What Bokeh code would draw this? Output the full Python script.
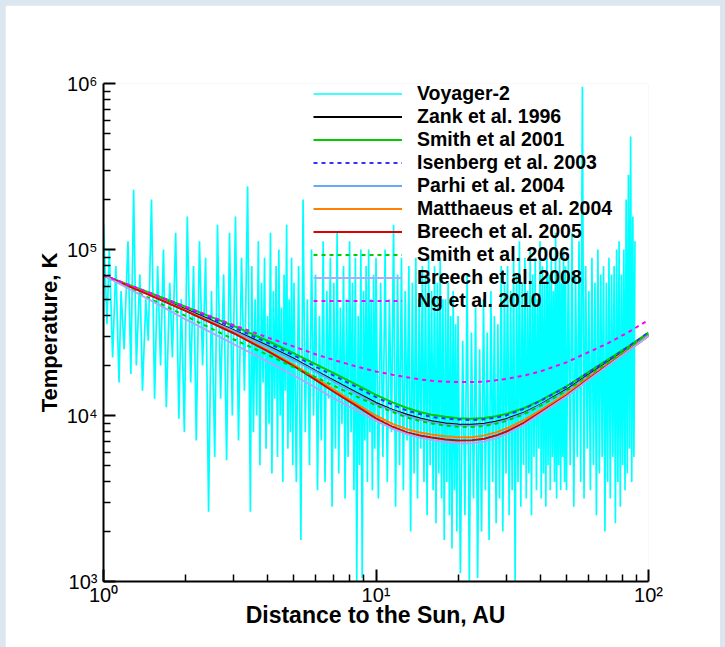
import numpy as np
from bokeh.plotting import figure
from bokeh.models import Range1d, FixedTicker, GlobalInlineStyleSheet
from bokeh.embed import file_html
from bokeh.resources import INLINE

# ---------------- model curves (distance in AU, temperature in K) ----------------
model_r = [1, 1.5, 2, 3, 4, 5, 6, 7, 8.5, 10, 11.5, 13, 14.5, 16, 18, 20, 22.5, 25, 27.5, 30, 35, 40, 50, 60, 70, 85, 100]
zank_1996 = [70000, 53100, 43700, 32700, 26300, 21900, 18600, 16200, 13700, 11900, 10800, 10100, 9590, 9250,
             8950, 8830, 8790, 8910, 9160, 9510, 10400, 11600, 14300, 17500, 20700, 25600, 30900]
smith_2001 = [70000, 54300, 45200, 34700, 28200, 23700, 20400, 18000, 15300, 13300, 12000, 11100, 10500, 10100,
              9820, 9640, 9570, 9660, 9890, 10200, 11100, 12300, 15000, 18200, 21400, 26300, 31600]
isenberg_2003 = [70000, 53700, 44500, 33900, 27400, 23000, 19700, 17400, 14800, 12900, 11600, 10700, 10200, 9790,
                 9590, 9460, 9400, 9480, 9700, 10000, 11000, 12200, 14900, 18100, 21200, 26200, 31600]
parhi_2004 = [70000, 52800, 43100, 32300, 25900, 21600, 18400, 16000, 13500, 11700, 10700, 9930, 9460, 9120,
              8830, 8710, 8670, 8790, 9040, 9380, 10300, 11500, 14100, 17300, 20400, 25200, 30600]
matthaeus_2004 = [70000, 52700, 43000, 31600, 24800, 20200, 16800, 14300, 11700, 10000, 8910, 8260, 7890, 7690,
                  7500, 7400, 7400, 7590, 7910, 8320, 9400, 10700, 13500, 16800, 20100, 25100, 30500]
breech_2005 = [70000, 52500, 42700, 31300, 24400, 19800, 16400, 13900, 11400, 9620, 8550, 7910, 7570, 7360,
               7180, 7080, 7100, 7240, 7570, 7980, 9060, 10400, 13200, 16500, 19800, 24800, 30200]
smith_2006 = [70000, 50100, 39800, 28800, 23200, 19500, 17000, 15100, 13000, 11500, 10500, 9700, 9270, 8950,
              8690, 8550, 8530, 8650, 8910, 9250, 10200, 11400, 14100, 17300, 20500, 25500, 30900]
breech_2008 = [70000, 49000, 38000, 26900, 21100, 17400, 14700, 12700, 10700, 9270, 8320, 7710, 7350, 7110,
               6900, 6790, 6810, 6970, 7280, 7690, 8810, 10200, 13000, 16300, 19600, 24700, 30200]
ng_2010 = [70000, 54300, 45200, 35100, 29500, 26000, 23400, 21600, 19700, 18400, 17600, 17000, 16500, 16200,
           16000, 15900, 15900, 16000, 16300, 16600, 17400, 18400, 20900, 24000, 26900, 32000, 37600]

# ---------------- Voyager-2 observations ----------------
voyager_r = [
    1.00, 1.03, 1.05, 1.08, 1.11, 1.14, 1.16, 1.19, 1.23, 1.26, 1.29, 1.32, 1.36, 1.39, 1.43, 1.46, 1.50,
    1.54, 1.58, 1.62, 1.66, 1.70, 1.75, 1.79, 1.84, 1.89, 1.93, 1.98, 2.03, 2.09, 2.14, 2.19, 2.25, 2.31,
    2.37, 2.43, 2.49, 2.56, 2.62, 2.69, 2.76, 2.83, 2.90, 2.97, 3.05, 3.13, 3.21, 3.29, 3.38, 3.46,
    3.50, 3.55, 3.60, 3.65, 3.70, 3.75, 3.80, 3.85, 3.90, 3.95, 4.00, 4.05, 4.10, 4.15, 4.20, 4.25, 4.30,
    4.35, 4.40, 4.45, 4.50, 4.55, 4.60, 4.65, 4.70, 4.75, 4.80, 4.85, 4.90, 4.95,
    5.0, 5.1, 5.2, 5.3, 5.4, 5.5, 5.6, 5.7, 5.8, 5.9, 6.0, 6.1, 6.2, 6.3, 6.4, 6.5, 6.6, 6.7, 6.8, 6.9,
    7.0, 7.1, 7.2, 7.3, 7.4, 7.5, 7.6, 7.7, 7.8, 7.9, 8.0, 8.1, 8.2, 8.3, 8.4, 8.5, 8.6, 8.7, 8.8, 8.9,
    9.0, 9.1, 9.2, 9.3, 9.4, 9.5, 9.6, 9.7, 9.8, 9.9,
    10.0, 10.2, 10.4, 10.6, 10.8, 11.0, 11.2, 11.4, 11.6, 11.8, 12.0, 12.2, 12.4, 12.6, 12.8, 13.0, 13.2,
    13.4, 13.6, 13.8, 14.0, 14.2, 14.4, 14.6, 14.8, 15.0, 15.2, 15.4, 15.6, 15.8, 16.0, 16.2, 16.4, 16.6,
    16.8, 17.0, 17.2, 17.4, 17.6, 17.8, 18.0, 18.2, 18.4, 18.6, 18.8, 19.0, 19.2, 19.4, 19.6, 19.8,
    20.0, 20.4, 20.8, 21.2, 21.6, 22.0, 22.4, 22.8, 23.2, 23.6, 24.0, 24.4, 24.8, 25.2, 25.6, 26.0, 26.4,
    26.8, 27.2, 27.6, 28.0, 28.4, 28.8, 29.2, 29.6, 30.0, 30.4, 30.8, 31.2, 31.6, 32.0, 32.4, 32.8, 33.2,
    33.6, 34.0, 34.4, 34.8, 35.2, 35.6, 36.0, 36.4, 36.8, 37.2, 37.6, 38.0, 38.4, 38.8, 39.2, 39.6, 40.0,
    40.4, 40.8, 41.2, 41.6, 42.0, 42.4, 42.8, 43.2, 43.6, 44.0, 44.4, 44.8, 45.2, 45.6, 46.0, 46.4, 46.8,
    47.2, 47.6, 48.0, 48.4, 48.8, 49.2, 49.6,
    50.0, 50.8, 51.6, 52.4, 53.2, 54.0, 54.8, 55.6, 56.4, 57.2, 58.0, 58.8, 59.6, 60.4, 61.2, 62.0, 62.8,
    63.6, 64.4, 65.2, 66.0, 66.8, 67.6, 68.4, 69.2, 70.0, 70.8, 71.6, 72.4, 73.2, 74.0, 74.8, 75.6, 76.4,
    77.2, 78.0, 78.8, 79.6, 80.4, 81.2, 82.0, 82.8, 83.6, 84.4, 85.2, 86.0, 86.8, 87.6, 88.4, 89.2,
]
voyager_T = [
    141000, 35500, 100000, 22400, 79400, 15800, 56200, 25100, 112000, 17800,
    229000, 20000, 70800, 14100, 50100, 28200, 200000, 12600, 79400, 20000,
    100000, 11200, 63100, 22400, 126000, 9550, 50100, 7940, 158000, 15800,
    79400, 7080, 112000, 20000, 89100, 2630, 56200, 5620, 141000, 12600,
    70800, 5370, 126000, 10000, 158000, 7080, 89100, 14100, 240000, 2630,
    79400, 7940, 50100, 10000, 112000, 5010, 63100, 15800, 89100, 6310,
    39800, 8910, 126000, 4470, 56200, 12600, 79400, 5620, 100000, 10000,
    44700, 3980, 70800, 14100, 141000, 6310, 50100, 7940, 89100, 5010,
    63100, 3980, 79400, 1780, 200000, 7940, 50100, 5010, 100000, 10000,
    70800, 3550, 39800, 7080, 112000, 3980, 56200, 12600, 89100, 2820,
    63100, 6310, 126000, 4470, 44700, 8910, 79400, 3160, 50100, 5620,
    112000, 7940, 63100, 3550, 89100, 1000, 39800, 5010, 100000, 1050,
    56200, 7080, 79400, 3980, 100000, 7940, 50100, 3550, 70800, 6310,
    89100, 3160, 63100, 5620, 100000, 3980, 50100, 7940, 141000, 2820,
    70800, 5010, 89100, 3550, 56200, 7080, 79400, 2000, 63100, 4470,
    89100, 3160, 50100, 6310, 79400, 3980, 70800, 2510, 89100, 5010,
    56200, 3550, 79400, 2240, 63100, 4470, 89100, 3160, 50100, 1780,
    50100, 3980, 63100, 2510, 39800, 1580, 56200, 3550, 35500, 2000,
    39800, 1120, 28200, 2510, 70800, 1000, 31600, 3160, 44700, 1050,
    25100, 2000, 50100, 3550, 31600, 1780, 56200, 3980, 39800, 2240,
    35500, 3160, 79400, 2000, 63100, 4470, 79400, 2510, 56200, 3550,
    89100, 1000, 70800, 3980, 112000, 2820, 63100, 5010, 89100, 3160,
    56200, 4470, 100000, 2510, 70800, 5620, 89100, 3550, 50100, 6310,
    112000, 3160, 79400, 4470, 63100, 2820, 100000, 5010, 70800, 3550,
    89100, 5620, 56200, 3980, 126000, 3160, 70800, 5010, 89100, 3550,
    63100, 5620, 100000, 3980, 79400,
    3550, 89100, 5010, 126000, 2820, 70800, 5620, 112000, 3980, 955000,
    3160, 79400, 6310, 56200, 3550, 89100, 5010, 63100, 2510, 100000,
    4470, 70800, 5620, 79400, 2000, 63100, 3980, 89100, 3160, 70800,
    5620, 79400, 2240, 100000, 3980, 112000, 2820, 70800, 5010, 100000,
    3550, 200000, 4470, 282000, 6310, 479000, 3980, 158000, 5620, 112000,
]
n_v = min(len(voyager_r), len(voyager_T))

# axis tick definitions
x_decades = [1, 10, 100]
x_tick_labels = ["10\u2070", "10\u00b9", "10\u00b2"]
y_decades = [1e3, 1e4, 1e5, 1e6]
y_tick_labels = ["10\u00b3", "10\u2074", "10\u2075", "10\u2076"]
minor_mult = [2, 3, 4, 5, 6, 7, 8, 9]

FONT = "Liberation Sans"

p = figure(width=715, height=642, x_axis_type="log", y_axis_type="log",
           x_range=Range1d(1, 100), y_range=Range1d(1e3, 1e6),
           output_backend="svg", toolbar_location=None,
           min_border_left=98, min_border_right=72, min_border_top=78, min_border_bottom=66)
p.styles = {"margin-left": "5px", "margin-top": "5px"}

p.line(voyager_r[:n_v], voyager_T[:n_v], color="#00ffff", line_width=1.7, legend_label="Voyager-2")
p.line(model_r, zank_1996, color="#000000", line_width=2, legend_label="Zank et al. 1996")
p.line(model_r, smith_2001, color="#00cc00", line_width=2, legend_label="Smith et al 2001")
p.line(model_r, isenberg_2003, color="#3333ff", line_width=2, line_dash="4 4", legend_label="Isenberg et al. 2003")
p.line(model_r, parhi_2004, color="#66aaff", line_width=2, legend_label="Parhi et al. 2004")
p.line(model_r, matthaeus_2004, color="#ff8000", line_width=2, legend_label="Matthaeus et al. 2004")
p.line(model_r, breech_2005, color="#dd0000", line_width=2, legend_label="Breech et al. 2005")
p.line(model_r, smith_2006, color="#00cc00", line_width=2, line_dash="4 4", legend_label="Smith et al. 2006")
p.line(model_r, breech_2008, color="#aaaaff", line_width=2, legend_label="Breech et al. 2008")
p.line(model_r, ng_2010, color="#ff00ff", line_width=2, line_dash="4 4", legend_label="Ng et al. 2010")

p.xaxis.ticker = FixedTicker(ticks=x_decades,
                             minor_ticks=[m * d for d in x_decades[:-1] for m in minor_mult])
p.yaxis.ticker = FixedTicker(ticks=y_decades,
                             minor_ticks=[m * d for d in y_decades[:-1] for m in minor_mult])
p.xaxis.major_label_overrides = dict(zip(x_decades, x_tick_labels))
p.yaxis.major_label_overrides = dict(zip(y_decades, y_tick_labels))

p.xaxis.axis_label = "Distance to the Sun, AU"
p.yaxis.axis_label = "Temperature, K"
for ax in (p.xaxis, p.yaxis):
    ax.axis_line_width = 2
    ax.axis_line_color = "black"
    ax.major_tick_in = 12
    ax.major_tick_out = 0
    ax.minor_tick_in = 7
    ax.minor_tick_out = 0
    ax.major_tick_line_width = 2
    ax.minor_tick_line_width = 1.5
    ax.major_tick_line_color = "black"
    ax.minor_tick_line_color = "black"
    ax.major_label_text_font = FONT
    ax.major_label_text_font_size = "20px"
    ax.major_label_text_color = "black"
    ax.axis_label_text_font = FONT
    ax.axis_label_text_font_style = "bold"
    ax.axis_label_text_color = "black"
p.xaxis.axis_label_text_font_size = "23px"
p.yaxis.axis_label_text_font_size = "22px"
p.xaxis.major_label_standoff = 2
p.xaxis.axis_label_standoff = -7
p.yaxis.major_label_standoff = 6
p.yaxis.axis_label_standoff = 2

p.xgrid.visible = False
p.ygrid.visible = False
p.outline_line_color = None
p.background_fill_color = "white"
p.border_fill_color = "white"

lg = p.legend[0]
lg.location = (210, 269)
lg.background_fill_alpha = 0
lg.border_line_alpha = 0
lg.padding = 0
lg.margin = 0
lg.spacing = 0
lg.glyph_width = 89
lg.glyph_height = 23
lg.label_height = 23
lg.label_standoff = 15
lg.label_text_font = FONT
lg.label_text_font_size = "19.5px"
lg.label_text_font_style = "bold"
lg.label_text_color = "black"

p.stylesheets = [GlobalInlineStyleSheet(css="body { background: #dce6f1; }")]

open("out.html", "w").write(file_html(p, INLINE))
